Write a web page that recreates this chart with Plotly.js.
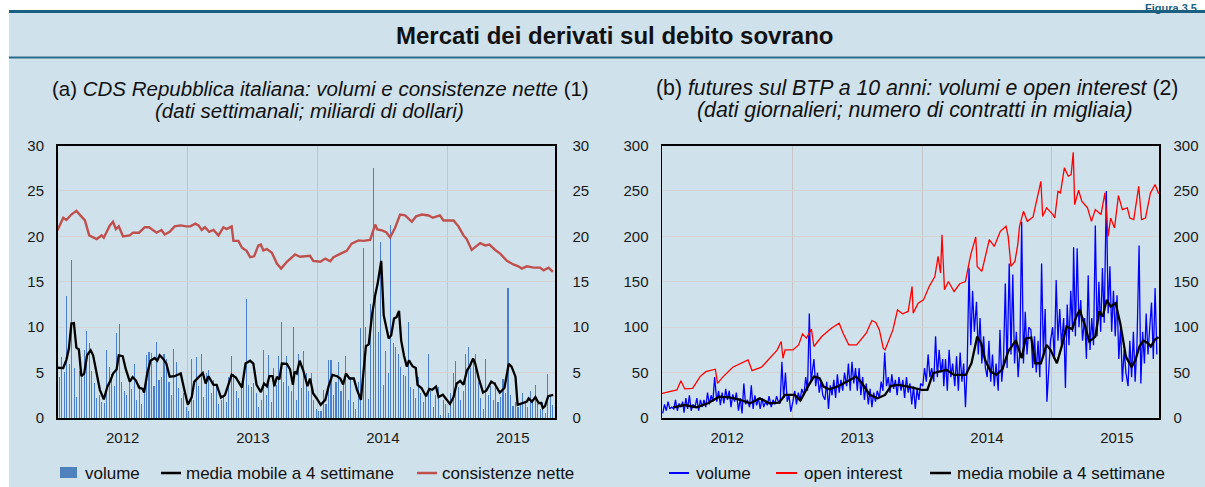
<!DOCTYPE html>
<html><head><meta charset="utf-8">
<script src="https://cdn.plot.ly/plotly-3.0.1.min.js"></script>
<style>html,body{margin:0;padding:0;background:#fff}#chart{width:1205px;height:487px}</style>
</head><body><div id="chart"></div>
<script>
// ---------------- DATA ----------------
// Panel (a): weekly CDS volumes (bn USD), first week ending 2012-01-06
const cdsWeekStart = '2012-01-06';
const cdsVolume = [
 4.5,6.7,5.1,13.4,5.9,17.4,5.55,2.35,5.2,5.3,
 7.5,9.6,8.3,5.2,3.9,2.2,2.5,1.8,1.7,7.5,
 5.6,4.8,3.5,9.4,10.3,4.0,3.0,2.5,4.0,3.2,
 5.9,2.0,3.6,1.5,3.0,6.95,7.3,7.2,3.5,8.35,
 4.2,4.5,7.0,6.5,4.0,2.5,7.6,6.15,3.3,2.2,
 2.8,1.2,0.8,6.5,2.0,6.7,3.5,7.0,2.3,5.0,
 5.3,2.8,4.2,3.7,1.5,2.0,2.5,1.8,4.5,6.8,
 4.8,3.0,2.2,3.8,4.2,13.1,3.6,3.4,3.8,2.7,
 1.2,2.0,7.5,2.5,6.9,1.8,5.5,3.6,6.8,10.6,
 4.0,6.8,3.5,3.0,10.0,2.0,7.1,3.3,7.4,4.9,
 3.0,5.0,2.0,1.0,0.8,0.8,3.1,1.5,6.4,6.4,
 2.5,4.0,6.2,3.0,4.2,6.8,2.0,4.5,1.8,1.0,
 4.0,9.9,18.7,10.0,2.1,12.5,27.5,13.2,9.5,19.4,
 3.6,7.4,4.9,21.2,8.3,7.8,7.0,5.6,4.7,4.6,
 10.6,3.4,3.2,2.2,4.5,2.8,1.8,2.5,7.1,3.0,
 1.2,2.5,3.4,0.3,2.0,1.5,0.5,2.8,4.9,6.3,
 3.4,2.0,3.0,7.0,7.8,5.5,6.5,7.0,4.0,2.2,
 1.0,6.5,2.5,3.5,2.0,4.0,1.8,2.3,4.3,2.8,
 14.3,2.5,1.3,1.8,1.2,1.5,2.8,1.8,1.2,3.0,
 1.8,3.6,1.5,1.0,1.8,0.5,4.8,2.5,1.4
];
// Panel (a): 4-week moving average [date, value]
const cdsMovingAvg = [
 ['2012-01-01',5.53],['2012-01-17',5.5],['2012-01-26',6.4],['2012-02-02',7.65],['2012-02-09',10.4],
 ['2012-02-16',10.45],['2012-02-23',7.75],['2012-03-01',7.55],['2012-03-08',4.6],['2012-03-16',4.9],
 ['2012-03-24',6.9],['2012-04-03',7.45],['2012-04-10',6.9],['2012-04-20',4.9],['2012-04-29',3.1],
 ['2012-05-10',2.05],['2012-05-20',3.45],['2012-05-29',4.15],['2012-06-05',4.9],['2012-06-15',5.35],
 ['2012-06-21',6.9],['2012-07-02',6.8],['2012-07-11',5.35],['2012-07-22',4.0],['2012-07-30',4.5],
 ['2012-08-08',4.15],['2012-08-17',3.35],['2012-08-27',3.2],['2012-08-31',2.8],['2012-09-09',4.9],
 ['2012-09-18',6.3],['2012-09-30',6.6],['2012-10-07',6.3],['2012-10-14',6.9],['2012-10-24',6.5],
 ['2012-11-02',5.95],['2012-11-11',4.55],['2012-11-25',4.6],['2012-12-12',4.9],['2012-12-21',3.3],
 ['2013-01-01',1.45],['2013-01-12',2.3],['2013-01-19',4.0],['2013-01-30',4.45],['2013-02-12',4.95],
 ['2013-02-20',3.8],['2013-02-28',4.6],['2013-03-14',3.65],['2013-03-23',3.65],['2013-04-04',2.25],
 ['2013-04-15',2.5],['2013-05-04',4.75],['2013-05-16',4.45],['2013-06-02',3.35],['2013-06-12',6.0],
 ['2013-06-25',6.3],['2013-07-04',6.0],['2013-07-13',3.65],['2013-07-25',2.85],['2013-08-03',3.8],
 ['2013-08-11',3.5],['2013-08-18',4.6],['2013-08-27',4.6],['2013-09-01',3.5],['2013-09-08',4.55],
 ['2013-09-15',4.25],['2013-09-22',6.0],['2013-10-06',5.95],['2013-10-15',5.35],['2013-10-23',3.65],
 ['2013-10-28',5.1],['2013-11-03',4.9],['2013-11-11',6.3],['2013-11-21',5.25],['2013-12-03',3.5],
 ['2013-12-10',4.35],['2013-12-19',2.7],['2013-12-29',2.15],['2014-01-09',1.45],['2014-01-22',2.0],
 ['2014-01-31',3.45],['2014-02-11',4.75],['2014-02-24',4.6],['2014-03-05',4.35],['2014-03-13',3.7],
 ['2014-03-21',4.9],['2014-03-31',4.35],['2014-04-12',4.35],['2014-04-21',3.1],['2014-05-02',2.0],
 ['2014-05-10',5.65],['2014-05-16',7.9],['2014-05-24',8.1],['2014-06-02',11.3],['2014-06-11',13.5],
 ['2014-06-18',14.8],['2014-06-28',17.3],['2014-07-02',14.5],['2014-07-05',11.3],['2014-07-13',9.85],
 ['2014-07-19',8.75],['2014-07-26',9.1],['2014-08-03',10.95],['2014-08-10',11.1],['2014-08-17',11.8],
 ['2014-08-23',8.55],['2014-08-31',6.85],['2014-09-08',5.65],['2014-09-14',6.35],['2014-09-24',5.7],
 ['2014-10-03',5.5],['2014-10-08',3.65],['2014-10-19',3.3],['2014-11-01',2.4],['2014-11-10',3.2],
 ['2014-11-18',3.1],['2014-11-29',3.45],['2014-12-06',2.3],['2014-12-18',2.55],['2014-12-29',2.0],
 ['2015-01-07',1.55],['2015-01-17',2.3],['2015-01-26',3.8],['2015-02-05',4.1],['2015-02-14',3.65],
 ['2015-02-24',5.25],['2015-03-03',5.65],['2015-03-13',6.55],['2015-03-19',6.0],['2015-03-29',4.35],
 ['2015-04-10',2.8],['2015-04-19',3.0],['2015-05-03',4.0],['2015-05-12',3.8],['2015-05-27',2.8],
 ['2015-06-09',3.3],['2015-06-21',5.95],['2015-06-29',5.65],['2015-07-10',4.55],['2015-07-16',1.45],
 ['2015-07-28',1.65],['2015-08-11',1.8],['2015-08-16',2.15],['2015-08-25',1.8],['2015-09-04',2.3],
 ['2015-09-13',1.65],['2015-09-20',1.65],['2015-09-25',1.1],['2015-10-01',1.3],['2015-10-10',2.4],
 ['2015-10-24',2.55]
];
// Panel (a): net notional outstanding [date, value]
const cdsNetNotional = [
 ['2012-01-01',20.66],['2012-01-17',22.05],['2012-01-26',21.8],['2012-02-09',22.4],['2012-02-23',22.8],
 ['2012-03-08',22.2],['2012-03-18',21.75],['2012-03-30',20.1],['2012-04-20',19.7],['2012-05-04',20.1],
 ['2012-05-10',19.85],['2012-05-27',21.2],['2012-06-05',21.6],['2012-06-13',20.8],['2012-06-21',21.1],
 ['2012-07-03',20.0],['2012-07-22',20.1],['2012-07-31',20.4],['2012-08-17',20.4],['2012-09-02',21.0],
 ['2012-09-14',21.0],['2012-10-05',20.4],['2012-10-19',20.7],['2012-10-28',20.2],['2012-11-11',20.5],
 ['2012-11-25',21.1],['2012-12-11',21.2],['2012-12-28',21.1],['2013-01-08',21.1],['2013-01-22',21.4],
 ['2013-01-31',21.2],['2013-02-09',20.7],['2013-02-18',21.0],['2013-03-02',20.5],['2013-03-14',20.7],
 ['2013-03-28',20.1],['2013-04-11',21.0],['2013-04-20',20.8],['2013-05-04',21.1],['2013-05-09',19.5],
 ['2013-05-23',19.5],['2013-06-02',18.75],['2013-06-15',18.4],['2013-06-25',17.7],['2013-07-06',17.8],
 ['2013-07-18',19.0],['2013-07-25',19.1],['2013-08-01',18.45],['2013-08-11',18.6],['2013-08-25',18.2],
 ['2013-09-08',17.0],['2013-09-20',16.45],['2013-10-06',17.2],['2013-10-29',18.0],['2013-11-12',17.75],
 ['2013-12-10',17.85],['2013-12-19',17.3],['2014-01-08',17.2],['2014-01-22',17.55],['2014-02-05',17.25],
 ['2014-02-14',17.7],['2014-03-09',18.15],['2014-03-23',18.4],['2014-04-06',19.2],['2014-04-25',19.55],
 ['2014-05-09',19.5],['2014-05-28',19.6],['2014-06-11',21.3],['2014-06-17',20.75],['2014-06-30',20.65],
 ['2014-07-12',20.45],['2014-07-23',19.9],['2014-08-06',20.95],['2014-08-20',22.4],['2014-09-03',22.3],
 ['2014-09-22',21.6],['2014-10-04',22.2],['2014-10-20',22.4],['2014-11-08',22.3],['2014-11-20',22.05],
 ['2014-12-10',22.3],['2014-12-20',21.75],['2015-01-17',21.75],['2015-01-31',21.1],['2015-02-14',20.1],
 ['2015-02-23',19.7],['2015-03-09',18.5],['2015-04-02',19.25],['2015-04-16',19.0],['2015-04-28',19.1],
 ['2015-05-14',18.5],['2015-05-28',18.1],['2015-06-16',17.3],['2015-07-04',16.9],['2015-07-18',16.7],
 ['2015-07-28',16.45],['2015-08-11',16.7],['2015-08-30',16.55],['2015-09-17',16.55],['2015-09-27',16.25],
 ['2015-10-11',16.55],['2015-10-23',16.1]
];
// Panel (b): daily futures volumes (thousand contracts), sampled ~every 5 days, one row per month from Jan 2012
const btpVolumeDays = [3,8,13,18,23,28];
const btpVolume = [
 [5,15,8,18,10,12],[10,20,8,16,12,18],[6,22,10,25,8,15],[12,22,8,20,12,20],[12,28,15,25,18,45],[18,30,14,28,16,32],
 [20,30,12,26,18,28],[8,22,5,38,15,20],[12,36,10,25,14,22],[10,22,12,18,14,24],[12,20,15,24,18,16],[62,22,50,18,25,7],
 [18,30,15,28,20,32],[25,45,30,115,40,55],[65,35,50,28,40,25],[20,40,10,36,25,42],[22,48,28,42,30,50],[35,60,30,62,38,55],
 [30,55,25,45,20,38],[15,32,12,28,18,30],[22,40,30,72,35,45],[28,48,32,42,25,45],[30,42,22,45,28,38],[15,35,10,32,20,38],
 [35,55,40,70,45,55],[40,90,45,75,50,65],[35,65,30,75,45,60],[35,68,30,72,40,60],[12,60,165,80,140,95],[128,70,110,60,90,55],
 [45,85,40,70,35,60],[30,97,40,65,148,55],[170,70,158,60,95,45],[75,216,60,117,70,100],[97,55,90,50,85,45],[170,70,120,18,60,85],
 [100,65,152,85,120,80],[110,33,125,80,140,95],[188,90,187,100,130,85],[110,65,157,75,110,80],[212,90,150,95,165,105],[250,115,167,95,140,90],
 [135,65,100,40,75,50],[35,85,45,95,40,80],[190,38,95,60,115,70],[100,127,65,143,70]
];
// Panel (b): open interest [date, value]
const btpOpenInterest = [
 ['2012-01-01',27],['2012-02-12',30.9],['2012-02-23',41],['2012-03-05',32],['2012-03-27',32.7],
 ['2012-04-17',45.6],['2012-05-03',51],['2012-05-30',53.7],['2012-06-05',38.2],['2012-06-21',45.6],
 ['2012-07-18',55.9],['2012-08-30',64],['2012-09-10',52.2],['2012-10-07',55.9],['2012-11-20',75],
 ['2012-12-01',84.2],['2012-12-06',65.8],['2012-12-12',75],['2013-01-03',75],['2013-01-19',80.5],
 ['2013-01-30',92.6],['2013-02-10',87.9],['2013-02-24',97.8],['2013-03-03',78.7],['2013-03-25',89.7],
 ['2013-04-21',98.9],['2013-05-13',104.4],['2013-05-24',93.4],['2013-06-09',80.5],['2013-07-01',80.5],
 ['2013-07-28',93.4],['2013-08-13',107.3],['2013-08-24',105.1],['2013-09-03',97],['2013-09-14',76.9],
 ['2013-09-19',75],['2013-10-11',97],['2013-10-24',119],['2013-11-07',114.7],['2013-11-23',117.3],
 ['2013-12-04',144.8],['2013-12-07',115.5],['2013-12-21',126.5],['2014-01-05',130],['2014-01-21',144.8],
 ['2014-02-06',155.8],['2014-02-15',177.9],['2014-02-22',159.6],['2014-02-26',201.8],['2014-03-05',141.2],
 ['2014-03-16',150.3],['2014-04-01',139.3],['2014-04-17',147.8],['2014-05-03',150.3],['2014-05-14',172.4],
 ['2014-05-19',181.6],['2014-06-01',199.3],['2014-06-05',166.9],['2014-06-18',161.4],['2014-07-09',196.3],
 ['2014-07-23',188.9],['2014-08-09',205.5],['2014-08-25',211],['2014-08-31',200],['2014-09-08',166.9],
 ['2014-09-19',172.4],['2014-09-27',190.8],['2014-10-02',211],['2014-10-13',227.5],['2014-10-24',216.5],
 ['2014-11-09',221.3],['2014-11-15',231.3],['2014-12-01',260.6],['2014-12-06',222],['2014-12-17',231.3],
 ['2015-01-04',223.9],['2015-01-09',220.2],['2015-01-18',249.6],['2015-01-25',247.8],['2015-02-05',275.4],
 ['2015-02-16',266.2],['2015-02-24',268],['2015-03-02',292.6],['2015-03-06',234.9],['2015-03-17',250.7],
 ['2015-03-26',238.6],['2015-04-11',231.3],['2015-04-22',216.5],['2015-05-03',229.4],['2015-05-19',224],
 ['2015-05-30',247.8],['2015-06-08',200],['2015-06-15',220.2],['2015-06-26',209.2],['2015-07-07',244.8],
 ['2015-07-18',229.4],['2015-08-01',231.3],['2015-08-08',220.2],['2015-08-19',218.4],['2015-09-02',255.1],
 ['2015-09-10',218.4],['2015-09-21',220.2],['2015-10-05',247.8],['2015-10-18',257],['2015-10-28',247]
];
// Panel (b): 4-week moving average of volumes [date, value]
const btpMovingAvg = [
 ['2012-02-01',11.8],['2012-03-05',14.3],['2012-04-07',11.8],['2012-05-09',16.2],['2012-06-10',23.5],
 ['2012-07-07',22.8],['2012-08-03',20.6],['2012-09-05',16.2],['2012-10-02',21.7],['2012-10-29',16.2],
 ['2012-11-25',17],['2012-12-12',25.4],['2013-01-08',25.4],['2013-01-24',19.1],['2013-02-14',34.5],
 ['2013-03-03',45.6],['2013-03-19',43.8],['2013-03-30',34.5],['2013-04-15',31.6],['2013-05-07',34.5],
 ['2013-06-03',40],['2013-06-30',45.6],['2013-07-16',38.2],['2013-08-07',25.4],['2013-08-29',21.7],
 ['2013-09-19',25.4],['2013-10-06',35.3],['2013-10-27',36.4],['2013-11-23',34.5],['2013-12-09',32.7],
 ['2013-12-31',30.9],['2014-01-16',30.9],['2014-02-01',49.3],['2014-02-17',51.1],['2014-03-11',52.9],
 ['2014-04-01',47.4],['2014-05-04',47.4],['2014-05-20',60.3],['2014-06-05',89.7],['2014-06-16',82.4],
 ['2014-06-27',64],['2014-07-13',51.1],['2014-07-29',47.4],['2014-08-15',53.7],['2014-08-31',73.1],
 ['2014-09-13',80.5],['2014-09-22',85.3],['2014-10-08',65.8],['2014-10-19',87.6],['2014-11-04',88.6],
 ['2014-11-15',60.3],['2014-12-01',60.3],['2014-12-17',80.5],['2014-12-28',75],['2015-01-15',60.3],
 ['2015-01-31',82.4],['2015-02-11',100.7],['2015-02-27',97.8],['2015-03-09',110],['2015-03-20',119.1],
 ['2015-04-05',100.7],['2015-04-16',84.2],['2015-05-03',89.7],['2015-05-14',117.3],['2015-05-24',111.7],
 ['2015-06-04',130.1],['2015-06-15',122.7],['2015-06-29',126.5],['2015-07-12',104.4],['2015-07-28',67.6],
 ['2015-08-13',55.9],['2015-08-24',64],['2015-09-04',78.7],['2015-09-15',85.3],['2015-09-28',82.4],
 ['2015-10-06',78.7],['2015-10-17',86],['2015-10-28',89]
];

// ---------------- BUILD ----------------
const W = 1205, H = 487;
const px = x => x / W, py = y => 1 - y / H;
const FONT = '"Liberation Sans", Arial, Helvetica, sans-serif';

function weekly(start, n) {
  const d0 = new Date(start + 'T00:00:00Z'); const out = [];
  for (let i = 0; i < n; i++) { const d = new Date(d0.getTime() + i * 7 * 86400000); out.push(d.toISOString().slice(0, 10)); }
  return out;
}
const cdsWeeks = weekly(cdsWeekStart, cdsVolume.length);
const volX = [], volY = [];
btpVolume.forEach((row, m) => {
  const yr = 2012 + Math.floor(m / 12), mo = m % 12 + 1;
  row.forEach((v, k) => { volX.push(yr + '-' + String(mo).padStart(2, '0') + '-' + String(btpVolumeDays[k]).padStart(2, '0')); volY.push(v); });
});
const col = (arr, i) => arr.map(r => r[i]);

const traces = [
  {type:'bar', x:cdsWeeks, y:cdsVolume, xaxis:'x', yaxis:'y', width:3*86400000,
   marker:{color:'#4a7fcb', line:{width:0}}, name:'volume', showlegend:false},
  {type:'scatter', mode:'lines', x:col(cdsMovingAvg,0), y:col(cdsMovingAvg,1), xaxis:'x', yaxis:'y',
   line:{color:'#000000', width:2.3}, name:'media mobile a 4 settimane', showlegend:false},
  {type:'scatter', mode:'lines', x:col(cdsNetNotional,0), y:col(cdsNetNotional,1), xaxis:'x', yaxis:'y2',
   line:{color:'#c0504d', width:2.4}, name:'consistenze nette', showlegend:false},
  {type:'scatter', mode:'lines', x:volX, y:volY, xaxis:'x2', yaxis:'y3',
   line:{color:'#0000ff', width:1.3}, name:'volume', showlegend:false},
  {type:'scatter', mode:'lines', x:col(btpOpenInterest,0), y:col(btpOpenInterest,1), xaxis:'x2', yaxis:'y4',
   line:{color:'#ff0000', width:1.3}, name:'open interest', showlegend:false},
  {type:'scatter', mode:'lines', x:col(btpMovingAvg,0), y:col(btpMovingAvg,1), xaxis:'x2', yaxis:'y3',
   line:{color:'#000000', width:2.3}, name:'media mobile a 4 settimane', showlegend:false}
];

const xCommon = {type:'date', range:['2012-01-01','2015-10-29'], tick0:'2012-01-01', dtick:'M12',
  ticklabelmode:'period', tickformat:'%Y', showgrid:true, gridcolor:'#c4c4c4', gridwidth:1,
  showline:true, linecolor:'#000', linewidth:1.5, mirror:true, ticks:'outside', ticklen:5,
  tickcolor:'rgba(0,0,0,0)', tickfont:{size:15, color:'#1a1a1a', family:FONT}, zeroline:false, fixedrange:true};
const yCommon = {showline:true, linecolor:'#000', linewidth:1.5, mirror:true, ticks:'outside', ticklen:9,
  tickcolor:'rgba(0,0,0,0)', tickfont:{size:15, color:'#1a1a1a', family:FONT}, zeroline:false, fixedrange:true};
const domA = [px(57.5), px(555)], domB = [px(662), px(1159)], domY = [py(418), py(145.5)];

const shapes = [
  {type:'rect', xref:'paper', yref:'paper', x0:px(9), x1:1, y0:0, y1:py(10), fillcolor:'#cfe1eb', line:{width:0}, layer:'below'},
  {type:'line', xref:'paper', yref:'paper', x0:px(9), x1:1, y0:py(11.5), y1:py(11.5), line:{color:'#1b5f80', width:3}},
  {type:'line', xref:'paper', yref:'paper', x0:px(9), x1:1, y0:py(57.5), y1:py(57.5), line:{color:'#2a6c8c', width:2}},
  // legend symbols
  {type:'rect', xref:'paper', yref:'paper', x0:px(60), x1:px(77), y0:py(478), y1:py(467), fillcolor:'#4f81bd', line:{width:0}},
  {type:'line', xref:'paper', yref:'paper', x0:px(161), x1:px(181), y0:py(473), y1:py(473), line:{color:'#000', width:2.5}},
  {type:'line', xref:'paper', yref:'paper', x0:px(417), x1:px(437), y0:py(473), y1:py(473), line:{color:'#c0504d', width:2.5}},
  {type:'line', xref:'paper', yref:'paper', x0:px(669), x1:px(689), y0:py(473), y1:py(473), line:{color:'#0000ff', width:2}},
  {type:'line', xref:'paper', yref:'paper', x0:px(776), x1:px(797), y0:py(473), y1:py(473), line:{color:'#ff0000', width:2}},
  {type:'line', xref:'paper', yref:'paper', x0:px(930), x1:px(951), y0:py(473), y1:py(473), line:{color:'#000', width:2.5}}
];
const ann = (x, y, text, size, extra) => Object.assign({xref:'paper', yref:'paper', x:px(x), y:py(y), text:text,
  showarrow:false, xanchor:'center', yanchor:'middle', font:{size:size, color:'#111', family:FONT}}, extra || {});
const annotations = [
  ann(1143, 0, '<b>Figura 3.5</b>', 11, {xanchor:'left', yanchor:'top', font:{size:11, color:'#1b5f80', family:FONT}}),
  ann(614, 36, '<b>Mercati dei derivati sul debito sovrano</b>', 24),
  ann(320.5, 88, '(a) <i>CDS Repubblica italiana: volumi e consistenze nette</i> (1)', 20.5),
  ann(310, 110, '<i>(dati settimanali; miliardi di dollari)</i>', 20.5),
  ann(916.5, 88, '(b) <i>futures sul BTP a 10 anni: volumi e open interest</i> (2)', 21.3),
  ann(915, 110, '<i>(dati giornalieri; numero di contratti in migliaia)</i>', 21.3),
  ann(83, 473, 'volume', 17, {xanchor:'left'}),
  ann(184, 473, 'media mobile a 4 settimane', 17, {xanchor:'left'}),
  ann(440, 473, 'consistenze nette', 17, {xanchor:'left'}),
  ann(694, 473, 'volume', 17, {xanchor:'left'}),
  ann(802, 473, 'open interest', 17, {xanchor:'left'}),
  ann(955, 473, 'media mobile a 4 settimane', 17, {xanchor:'left'})
];

const layout = {
  width:W, height:H, margin:{l:0, r:0, t:0, b:0}, paper_bgcolor:'#ffffff', plot_bgcolor:'#ffffff',
  font:{family:FONT, color:'#111'}, showlegend:false, bargap:0,
  xaxis:Object.assign({}, xCommon, {domain:domA, anchor:'y'}),
  yaxis:Object.assign({}, yCommon, {domain:domY, anchor:'x', range:[0,30], dtick:5, showgrid:true, gridcolor:'#d4d4d4'}),
  yaxis2:Object.assign({}, yCommon, {overlaying:'y', side:'right', anchor:'x', range:[0,30], dtick:5, showgrid:false, ticklen:13}),
  xaxis2:Object.assign({}, xCommon, {domain:domB, anchor:'y3'}),
  yaxis3:Object.assign({}, yCommon, {domain:domY, anchor:'x2', range:[0,300], dtick:50, showgrid:true, gridcolor:'#d4d4d4'}),
  yaxis4:Object.assign({}, yCommon, {overlaying:'y3', side:'right', anchor:'x2', range:[0,300], dtick:50, showgrid:false, ticklen:10}),
  shapes:shapes, annotations:annotations
};

Plotly.newPlot('chart', traces, layout, {displayModeBar:false, staticPlot:true});
</script></body></html>
